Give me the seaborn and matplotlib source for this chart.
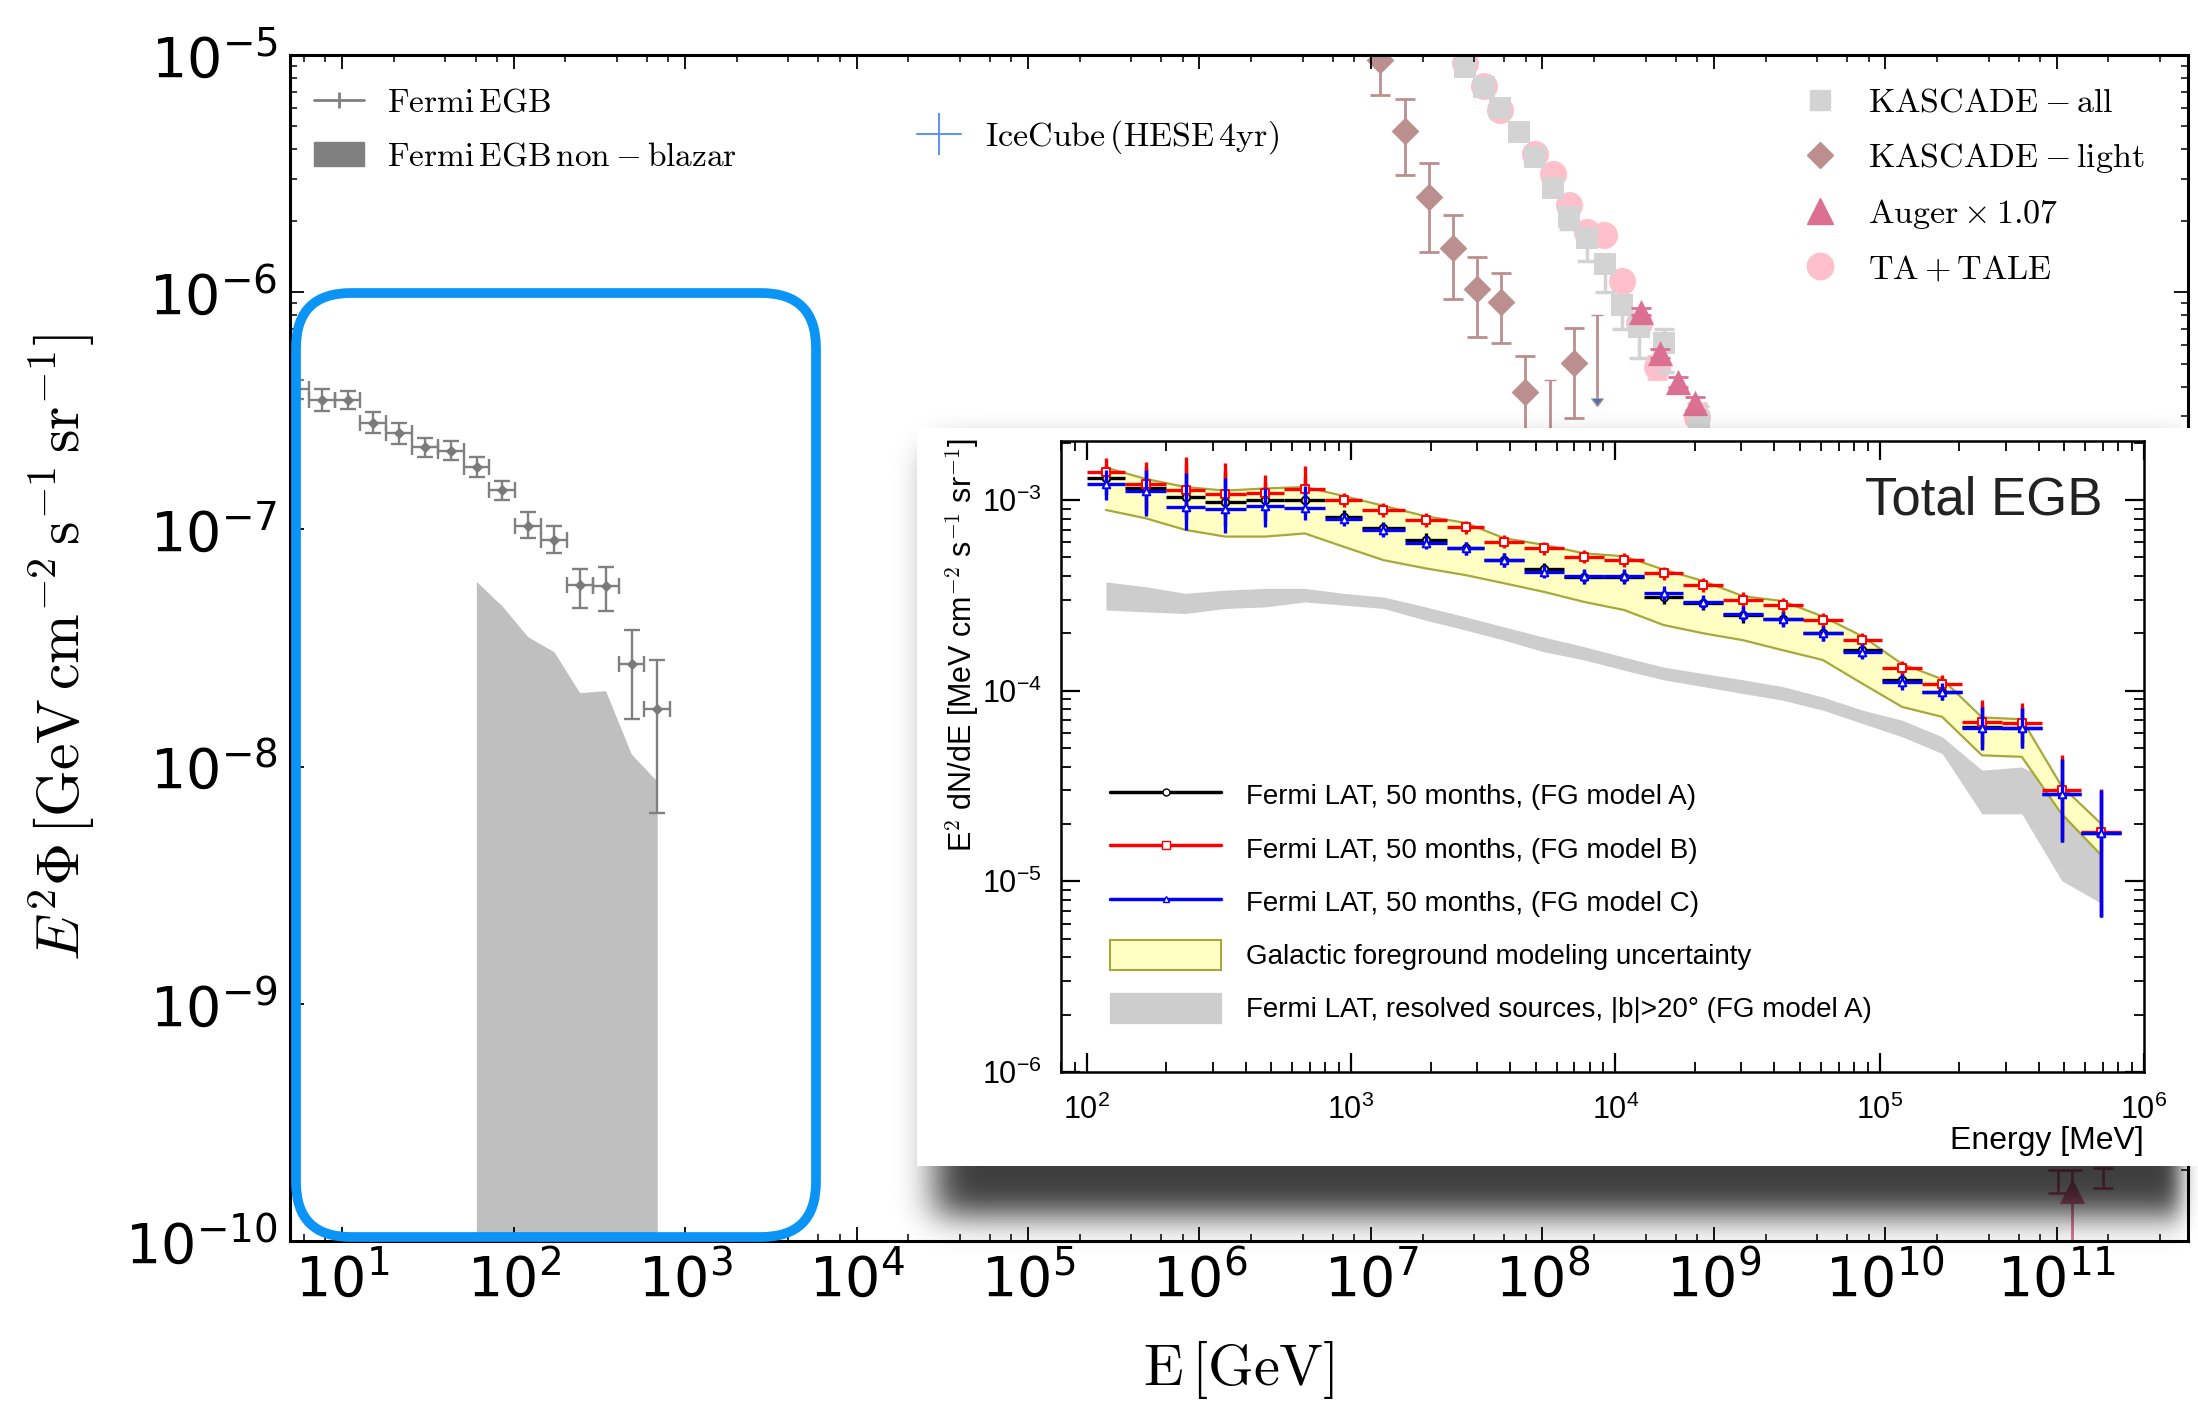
import math
import numpy as np
import pandas as pd
import matplotlib
matplotlib.use("Agg")
import matplotlib.pyplot as plt
import seaborn as sns
from matplotlib.lines import Line2D
from matplotlib.patches import Patch, FancyBboxPatch, Rectangle
from matplotlib.transforms import IdentityTransform
from matplotlib.ticker import LogLocator, FuncFormatter, NullFormatter

sns.set_theme(style="ticks")
plt.rcParams["font.family"] = ["DejaVu Sans"]
plt.rcParams["mathtext.fontset"] = "cm"
for k in ["axes.edgecolor", "xtick.color", "ytick.color", "text.color", "axes.labelcolor"]:
    plt.rcParams[k] = "black"

# ------------------------------------------------------------------ data
# Fermi EGB (main panel, GeV)
fermi_e_lo = [4.5, 6.4, 9.1, 12.8, 18.1, 25.6, 36.2, 51.2, 72.4, 102, 145, 205, 290, 410, 580]
fermi_e_hi = [6.4, 9.1, 12.8, 18.1, 25.6, 36.2, 51.2, 72.4, 102, 145, 205, 290, 410, 580, 820]
fermi_flux = [3.9e-7, 3.51e-7, 3.51e-7, 2.82e-7, 2.56e-7, 2.22e-7, 2.15e-7, 1.84e-7,
              1.47e-7, 1.03e-7, 9.0e-8, 5.83e-8, 5.79e-8, 2.70e-8, 1.75e-8]
fermi_up = [4.27e-7, 3.91e-7, 3.85e-7, 3.12e-7, 2.82e-7, 2.42e-7, 2.36e-7, 2.01e-7,
            1.60e-7, 1.18e-7, 1.03e-7, 6.81e-8, 6.97e-8, 3.77e-8, 2.81e-8]
fermi_lo = [3.55e-7, 3.16e-7, 3.21e-7, 2.54e-7, 2.29e-7, 2.01e-7, 1.97e-7, 1.66e-7,
            1.33e-7, 9.23e-8, 7.92e-8, 4.65e-8, 4.54e-8, 1.59e-8, 6.35e-9]

# Fermi EGB non-blazar band
nonblazar_e = [60.7, 85.9, 121, 172, 243, 344, 486, 689]
nonblazar_flux = [6.03e-8, 4.75e-8, 3.53e-8, 3.05e-8, 2.05e-8, 2.09e-8, 1.13e-8, 8.65e-9]

# KASCADE light
kl_e = [1.13e7, 1.58e7, 2.18e7, 3.01e7, 4.16e7, 5.75e7, 7.94e7, 1.52e8]
kl_flux = [9.53e-6, 4.80e-6, 2.51e-6, 1.53e-6, 1.03e-6, 9.06e-7, 3.78e-7, 5.01e-7]
kl_up = [1.2e-5, 6.52e-6, 3.49e-6, 2.11e-6, 1.41e-6, 1.20e-6, 5.38e-7, 7.06e-7]
kl_lo = [6.78e-6, 3.12e-6, 1.48e-6, 9.35e-7, 6.49e-7, 6.10e-7, 2.24e-7, 2.95e-7]
kl_ul_e = [1.10e8, 2.09e8]
kl_ul_flux = [4.27e-7, 8.02e-7]
kl_ul_end = [1.26e-7, 3.58e-7]

# KASCADE all
ka_e = [3.53e7, 4.56e7, 5.69e7, 7.26e7, 9.08e7, 1.148e8, 1.432e8, 1.832e8, 2.31e8,
        2.92e8, 3.66e8, 5.11e8, 8.15e8]
ka_flux = [8.93e-6, 7.31e-6, 5.96e-6, 4.75e-6, 3.72e-6, 2.74e-6, 2.08e-6, 1.70e-6,
           1.32e-6, 8.83e-7, 7.11e-7, 6.12e-7, 2.84e-7]
ka_up = [9.2e-6, 7.5e-6, 6.15e-6, 4.95e-6, 3.9e-6, 2.9e-6, 2.2e-6, 1.82e-6,
         1.42e-6, 9.6e-7, 7.9e-7, 7.0e-7, 3.3e-7]
ka_lo = [8.65e-6, 7.1e-6, 5.75e-6, 4.55e-6, 3.5e-6, 2.55e-6, 1.85e-6, 1.35e-6,
         1.0e-6, 7.0e-7, 5.3e-7, 4.6e-7, 2.3e-7]

# TA + TALE
ta_e = [3.53e7, 4.56e7, 5.69e7, 9.08e7, 1.16e8, 1.432e8, 1.832e8, 2.29e8, 2.92e8,
        3.66e8, 4.67e8, 7.96e8]
ta_flux = [9.23e-6, 7.40e-6, 5.86e-6, 3.83e-6, 3.15e-6, 2.33e-6, 1.80e-6, 1.74e-6,
           1.11e-6, 7.43e-7, 4.85e-7, 2.99e-7]
ta_up = [9.5e-6, 7.6e-6, 6.05e-6, 3.95e-6, 3.3e-6, 2.45e-6, 1.9e-6, 1.86e-6,
         1.2e-6, 8.1e-7, 5.4e-7, 3.4e-7]
ta_lo = [9.0e-6, 7.2e-6, 5.65e-6, 3.7e-6, 3.0e-6, 2.2e-6, 1.7e-6, 1.62e-6,
         1.02e-6, 6.8e-7, 4.3e-7, 2.6e-7]
# TA bars visible in the shadow at the highest energies
ta_hi_e = [1.01e11, 1.85e11]
ta_hi_flux = [1.79e-10, 1.85e-10]
ta_hi_up = [2.0e-10, 2.04e-10]
ta_hi_lo = [1.6e-10, 1.68e-10]

# Auger x 1.07
au_e = [3.78e8, 4.82e8, 6.17e8, 7.78e8, 1.22e11]
au_flux = [8.28e-7, 5.52e-7, 4.20e-7, 3.40e-7, 1.63e-10]
au_up = [8.6e-7, 5.75e-7, 4.4e-7, 3.6e-7, 2.0e-10]
au_lo = [8.0e-7, 5.3e-7, 4.0e-7, 3.2e-7, 5.0e-11]

# ---- inset (Fermi LAT total EGB, MeV)
inset_edges = [100, 140, 200, 280, 400, 560, 800, 1100, 1600, 2300, 3200, 4500, 6400,
               9100, 12800, 18100, 25600, 36200, 51200, 72400, 102000, 145000, 205000,
               290000, 410000, 580000, 820000]
model_a = [1.30e-3, 1.15e-3, 1.04e-3, 9.79e-4, 1.00e-3, 1.00e-3, 8.17e-4, 7.10e-4,
           6.17e-4, 5.57e-4, 4.84e-4, 4.33e-4, 3.95e-4, 3.95e-4, 3.10e-4, 2.87e-4,
           2.49e-4, 2.39e-4, 2.00e-4, 1.63e-4, 1.14e-4, 9.86e-5, 6.46e-5, 6.34e-5,
           2.88e-5, 1.79e-5]
model_b = [1.41e-3, 1.22e-3, 1.13e-3, 1.07e-3, 1.09e-3, 1.14e-3, 1.00e-3, 8.87e-4,
           7.85e-4, 7.19e-4, 6.04e-4, 5.57e-4, 5.04e-4, 4.84e-4, 4.12e-4, 3.58e-4,
           2.99e-4, 2.81e-4, 2.34e-4, 1.84e-4, 1.31e-4, 1.09e-4, 6.85e-5, 6.73e-5,
           3.01e-5, 1.82e-5]
model_c = [1.22e-3, 1.11e-3, 9.23e-4, 8.93e-4, 9.31e-4, 9.04e-4, 7.93e-4, 6.97e-4,
           5.97e-4, 5.57e-4, 4.84e-4, 4.21e-4, 3.99e-4, 3.99e-4, 3.26e-4, 2.92e-4,
           2.54e-4, 2.37e-4, 2.00e-4, 1.60e-4, 1.11e-4, 9.86e-5, 6.34e-5, 6.34e-5,
           2.88e-5, 1.79e-5]
err_up_dex = [0.07, 0.114, 0.175, 0.163, 0.093, 0.12, 0.035, 0.035, 0.035, 0.035, 0.035,
              0.035, 0.035, 0.035, 0.035, 0.035, 0.04, 0.04, 0.04, 0.04, 0.04, 0.045,
              0.114, 0.105, 0.184, 0.224]
err_dn_dex = [0.088, 0.131, 0.122, 0.126, 0.108, 0.06, 0.035, 0.035, 0.035, 0.035, 0.035,
              0.035, 0.035, 0.035, 0.035, 0.035, 0.04, 0.04, 0.04, 0.04, 0.04, 0.045,
              0.114, 0.105, 0.254, 0.441]
fg_low = [8.87e-4, 8.02e-4, 6.97e-4, 6.43e-4, 6.43e-4, 6.68e-4, 5.69e-4, 4.84e-4,
          4.38e-4, 4.04e-4, 3.66e-4, 3.30e-4, 2.92e-4, 2.65e-4, 2.21e-4, 2.00e-4,
          1.84e-4, 1.63e-4, 1.45e-4, 1.09e-4, 8.22e-5, 7.29e-5, 4.58e-5, 4.50e-5,
          2.26e-5, 1.37e-5]
fg_high = [1.48e-3, 1.29e-3, 1.17e-3, 1.12e-3, 1.15e-3, 1.17e-3, 1.05e-3, 9.33e-4,
           8.22e-4, 7.59e-4, 6.31e-4, 5.82e-4, 5.25e-4, 5.07e-4, 4.32e-4, 3.76e-4,
           3.13e-4, 2.95e-4, 2.45e-4, 1.93e-4, 1.38e-4, 1.15e-4, 7.24e-5, 7.08e-5,
           3.16e-5, 2.00e-5]
res_high = [3.72e-4, 3.51e-4, 3.24e-4, 3.37e-4, 3.44e-4, 3.44e-4, 3.24e-4, 3.10e-4,
            2.75e-4, 2.44e-4, 2.16e-4, 1.91e-4, 1.70e-4, 1.50e-4, 1.33e-4, 1.23e-4,
            1.14e-4, 1.05e-4, 9.27e-5, 7.91e-5, 7.00e-5, 5.73e-5, 3.83e-5, 3.98e-5,
            3.16e-5, 1.78e-5]
res_low = [2.65e-4, 2.59e-4, 2.54e-4, 2.70e-4, 2.75e-4, 2.92e-4, 2.81e-4, 2.70e-4,
           2.34e-4, 2.08e-4, 1.84e-4, 1.60e-4, 1.45e-4, 1.28e-4, 1.14e-4, 1.05e-4,
           9.66e-5, 8.91e-5, 7.91e-5, 6.73e-5, 5.73e-5, 4.68e-5, 2.26e-5, 2.26e-5,
           1.01e-5, 7.66e-6]

# ------------------------------------------------------------------ figure
W_PX, H_PX = 2198, 1404
fig = plt.figure(figsize=(W_PX / 100, H_PX / 100), dpi=100)
fig.patch.set_facecolor("white")

MAIN = [0.13194, 0.11610, 0.86351, 0.84473]
ax = fig.add_axes(MAIN)
ax.set_facecolor("white")
ax.set_xscale("log")
ax.set_yscale("log")
ax.set_xlim(4.97, 5.82e11)
ax.set_ylim(1e-10, 1e-5)


def err_pair(v, lo, hi):
    v, lo, hi = map(np.asarray, (v, lo, hi))
    return [v - lo, hi - v]


# Fermi EGB
fx = np.sqrt(np.asarray(fermi_e_lo) * np.asarray(fermi_e_hi))
ax.errorbar(fx, fermi_flux, xerr=err_pair(fx, fermi_e_lo, fermi_e_hi),
            yerr=err_pair(fermi_flux, fermi_lo, fermi_up), fmt="none",
            ecolor="grey", elinewidth=1.7, capsize=5.5, capthick=1.7, zorder=2)
sns.scatterplot(data=pd.DataFrame({"E": fx, "F": fermi_flux}), x="E", y="F", marker="D",
                s=34, color="#7a7a7a", linewidth=0, ax=ax, zorder=3, legend=False)
ax.fill_between(nonblazar_e, 1e-12, nonblazar_flux, color="grey", alpha=0.5, lw=0, zorder=1)

# TA + TALE
ax.errorbar(ta_e, ta_flux, yerr=err_pair(ta_flux, ta_lo, ta_up), fmt="none",
            ecolor="pink", elinewidth=2, capsize=7, capthick=2, zorder=2)
ax.errorbar(ta_hi_e, ta_hi_flux, yerr=err_pair(ta_hi_flux, ta_hi_lo, ta_hi_up), fmt="none",
            ecolor="palevioletred", elinewidth=2, capsize=7, capthick=2, zorder=2)
sns.scatterplot(data=pd.DataFrame({"E": ta_e, "F": ta_flux}), x="E", y="F", marker="o",
                s=380, color="pink", linewidth=0, ax=ax, zorder=2.2, legend=False)
# KASCADE all
ax.errorbar(ka_e, ka_flux, yerr=err_pair(ka_flux, ka_lo, ka_up), fmt="none",
            ecolor="lightgrey", elinewidth=2.5, capsize=7, capthick=2.5, zorder=2.4)
sns.scatterplot(data=pd.DataFrame({"E": ka_e, "F": ka_flux}), x="E", y="F", marker="s",
                s=240, color="lightgrey", linewidth=0, ax=ax, zorder=2.5, legend=False)
# Auger
ax.errorbar(au_e, au_flux, yerr=err_pair(au_flux, au_lo, au_up), fmt="none",
            ecolor="palevioletred", elinewidth=2, capsize=7, capthick=2, zorder=2.6)
sns.scatterplot(data=pd.DataFrame({"E": au_e, "F": au_flux}), x="E", y="F", marker="^",
                s=330, color="palevioletred", linewidth=0, ax=ax, zorder=2.7, legend=False)
# KASCADE light
ax.errorbar(kl_e, kl_flux, yerr=err_pair(kl_flux, kl_lo, kl_up), fmt="none",
            ecolor="rosybrown", elinewidth=2, capsize=7.5, capthick=2, zorder=2.8)
ax.errorbar(kl_ul_e, kl_ul_flux, yerr=[np.asarray(kl_ul_flux) - np.asarray(kl_ul_end),
                                       np.zeros(len(kl_ul_e))],
            uplims=True, fmt="none", ecolor="rosybrown", elinewidth=2, capsize=4, zorder=2.8)
sns.scatterplot(data=pd.DataFrame({"E": kl_e, "F": kl_flux}), x="E", y="F", marker="D",
                s=200, color="rosybrown", linewidth=0, ax=ax, zorder=2.9, legend=False)

# ticks
ax.xaxis.set_major_locator(LogLocator(base=10, numticks=30))
ax.xaxis.set_minor_locator(LogLocator(base=10, subs=[2, 4, 6, 8], numticks=100))
ax.yaxis.set_major_locator(LogLocator(base=10, numticks=30))
ax.yaxis.set_minor_locator(LogLocator(base=10, subs=np.arange(2, 10), numticks=100))
fmt = FuncFormatter(lambda v, p: r"$\mathregular{10^{%d}}$" % int(round(np.log10(v))))
ax.xaxis.set_major_formatter(fmt)
ax.yaxis.set_major_formatter(fmt)
ax.xaxis.set_minor_formatter(NullFormatter())
ax.yaxis.set_minor_formatter(NullFormatter())
ax.tick_params(which="both", direction="in", top=True, right=True, color="black")
ax.tick_params(which="major", length=10, width=1.3, labelsize=40)
ax.tick_params(which="minor", length=5, width=1.1)
ax.tick_params(axis="x", which="major", pad=8)
ax.tick_params(axis="y", which="major", pad=9)
for sp in ax.spines.values():
    sp.set_linewidth(2.2)
    sp.set_color("black")
    sp.set_zorder(6)
ax.xaxis.set_zorder(6)
ax.yaxis.set_zorder(6)

ax.set_xlabel(r"$\mathrm{E\,[GeV]}$", fontsize=42)
ax.set_ylabel(r"$E^2\Phi\,[\mathrm{GeV\,cm^{-2}\,s^{-1}\,sr^{-1}}]$", fontsize=43)
ax.xaxis.set_label_coords(0.5, -0.083)
ax.yaxis.set_label_coords(-0.1015, 0.5)

# legends
leg1 = ax.legend(handles=[Line2D([], [], color="grey", lw=2, marker="|", ms=12, mew=2),
                          Patch(facecolor="grey", edgecolor="grey")],
                 labels=[r"$\mathrm{Fermi\,EGB}$", r"$\mathrm{Fermi\,EGB\,non-blazar}$"],
                 loc="upper left", bbox_to_anchor=(314 / W_PX, 1 - 86 / H_PX),
                 bbox_transform=fig.transFigure, frameon=False, fontsize=24,
                 borderpad=0, borderaxespad=0, handlelength=1.5, handletextpad=0.7,
                 labelspacing=0.62, numpoints=1)
ax.add_artist(leg1)
leg2 = ax.legend(handles=[Line2D([], [], color="cornflowerblue", lw=1.5, marker="|", ms=30,
                                 mew=1.5)],
                 labels=[r"$\mathrm{IceCube\,(HESE\,4yr)}$"],
                 loc="upper left", bbox_to_anchor=(917 / W_PX, 1 - 118 / H_PX),
                 bbox_transform=fig.transFigure, frameon=False, fontsize=24.5,
                 borderpad=0, borderaxespad=0, handlelength=1.3, handletextpad=0.7,
                 numpoints=1)
ax.add_artist(leg2)
leg3 = ax.legend(handles=[Line2D([], [], ls="none", marker="s", ms=15, color="lightgrey"),
                          Line2D([], [], ls="none", marker="D", ms=13, color="rosybrown"),
                          Line2D([], [], ls="none", marker="^", ms=19, color="palevioletred"),
                          Line2D([], [], ls="none", marker="o", ms=19, color="pink")],
                 labels=[r"$\mathrm{KASCADE-all}$", r"$\mathrm{KASCADE-light}$",
                         r"$\mathrm{Auger\times1.07}$", r"$\mathrm{TA+TALE}$"],
                 loc="upper left", bbox_to_anchor=(1800 / W_PX, 1 - 86 / H_PX),
                 bbox_transform=fig.transFigure, frameon=False, fontsize=24.5,
                 borderpad=0, borderaxespad=0, handlelength=1.2, handletextpad=0.8,
                 labelspacing=0.64, numpoints=1)

# shadow under the inset picture (drawn inside the main axes, under the spines)
xs = np.arange(W_PX) + 0.5
ys = np.arange(H_PX) + 0.5
erf = np.vectorize(math.erf)


def soft_box(t, a, b, sa, sb):
    return 0.5 * (erf((t - a) / (np.sqrt(2) * sa)) - erf((t - b) / (np.sqrt(2) * sb)))


alpha = 0.76 * soft_box(ys, 450, 1216, 16, 16)[:, None] * soft_box(xs, 935, 2180, 18, 10)[None, :]
rgba = np.zeros((H_PX, W_PX, 4))
rgba[..., 3] = alpha
L, B, Wd, Ht = MAIN
ax.imshow(rgba, extent=(-L / Wd, (1 - L) / Wd, -B / Ht, (1 - B) / Ht), transform=ax.transAxes,
          aspect="auto", origin="upper", zorder=5, clip_on=False, interpolation="bilinear")

# inset paper + axes
fig.add_artist(Rectangle((917 / W_PX, 1 - 1166 / H_PX), (W_PX - 917) / W_PX, (1166 - 428) / H_PX,
                         transform=fig.transFigure, facecolor="white", edgecolor="none", zorder=9))
axi = fig.add_axes([1061 / W_PX, 1 - 1072 / H_PX, 1083 / W_PX, 631 / H_PX], zorder=10)
axi.set_facecolor("white")
axi.set_xscale("log")
axi.set_yscale("log")
axi.set_xlim(80, 1e6)
axi.set_ylim(1e-6, 2.04e-3)

edges = np.asarray(inset_edges, dtype=float)
ctr = np.sqrt(edges[:-1] * edges[1:])
axi.fill_between(ctr, res_low, res_high, color="#cdcdcd", lw=0, zorder=1)
axi.fill_between(ctr, fg_low, fg_high, color="#ffffc4", lw=0, zorder=1.5)
axi.plot(ctr, fg_low, color="#a8a83a", lw=1.6, zorder=1.6)
axi.plot(ctr, fg_high, color="#a8a83a", lw=1.6, zorder=1.6)
up = 10 ** np.asarray(err_up_dex)
dn = 10 ** np.asarray(err_dn_dex)
for vals, col, mk, ms, z in [(model_a, "black", "o", 30, 3), (model_b, "red", "s", 34, 4),
                             (model_c, "blue", "^", 30, 5)]:
    v = np.asarray(vals)
    axi.errorbar(ctr, v, xerr=[ctr - edges[:-1], edges[1:] - ctr], yerr=[v - v / dn, v * up - v],
                 fmt="none", ecolor=col, elinewidth=2.4, capsize=0, zorder=z)
    sns.scatterplot(data=pd.DataFrame({"E": ctr, "F": v}), x="E", y="F", marker=mk, s=ms,
                    facecolor="white", edgecolor=col, linewidth=1.4, ax=axi, zorder=z + 0.5,
                    legend=False)

ifmt = FuncFormatter(lambda v, p: r"$\mathregular{10^{%d}}$" % int(round(np.log10(v))))
axi.xaxis.set_major_locator(LogLocator(base=10, numticks=20))
axi.xaxis.set_minor_locator(LogLocator(base=10, subs=np.arange(2, 10), numticks=100))
axi.yaxis.set_major_locator(LogLocator(base=10, numticks=20))
axi.yaxis.set_minor_locator(LogLocator(base=10, subs=np.arange(2, 10), numticks=100))
axi.xaxis.set_major_formatter(ifmt)
axi.yaxis.set_major_formatter(ifmt)
axi.xaxis.set_minor_formatter(NullFormatter())
axi.yaxis.set_minor_formatter(NullFormatter())
axi.tick_params(which="both", direction="in", top=True, right=True, color="black")
axi.tick_params(which="major", length=14, width=1.6, labelsize=22,
                labelfontfamily="Liberation Sans")
axi.tick_params(which="minor", length=7, width=1.3)
axi.tick_params(axis="x", which="major", pad=16)
axi.tick_params(axis="y", which="major", pad=14)
for sp in axi.spines.values():
    sp.set_linewidth(1.8)
    sp.set_color("black")
axi.set_xlabel("Energy [MeV]", fontsize=23, family="Liberation Sans", ha="right", va="top")
axi.xaxis.set_label_coords(1.0, -0.085)
axi.set_ylabel(r"E$^{2}$ dN/dE [MeV cm$^{-2}$ s$^{-1}$ sr$^{-1}$]", fontsize=22,
               family="Liberation Sans")
axi.yaxis.set_label_coords(-0.074, 0.677)
axi.text(0.962, 0.946, "Total EGB", transform=axi.transAxes, ha="right", va="top",
         fontsize=38, family="Liberation Sans", color="#222222")

axi.legend(handles=[Line2D([], [], color="black", lw=2.5, marker="o", mfc="white", ms=5),
                    Line2D([], [], color="red", lw=2.5, marker="s", mfc="white", ms=6),
                    Line2D([], [], color="blue", lw=2.5, marker="^", mfc="white", ms=5),
                    Patch(facecolor="#ffffc4", edgecolor="#a8a83a", lw=1.5),
                    Patch(facecolor="#cdcdcd", edgecolor="#cdcdcd")],
           labels=["Fermi LAT, 50 months, (FG model A)", "Fermi LAT, 50 months, (FG model B)",
                   "Fermi LAT, 50 months, (FG model C)",
                   "Galactic foreground modeling uncertainty",
                   "Fermi LAT, resolved sources, |b|>20\u00b0 (FG model A)"],
           loc="upper left", bbox_to_anchor=(1110 / W_PX, 1 - 780 / H_PX),
           bbox_transform=fig.transFigure, frameon=False,
           prop={"family": "Liberation Sans", "size": 20}, borderpad=0, borderaxespad=0,
           handlelength=4.0, handleheight=1.3, handletextpad=0.9, labelspacing=0.82,
           numpoints=1)

# blue rounded frame around the Fermi region
fig.add_artist(FancyBboxPatch((296, H_PX - 1237), 520, 1237 - 293,
                              boxstyle="round,pad=0,rounding_size=55",
                              transform=IdentityTransform(), facecolor="none",
                              edgecolor="#0a94f5", lw=7, zorder=20))

fig.savefig("out.png", dpi=100)
